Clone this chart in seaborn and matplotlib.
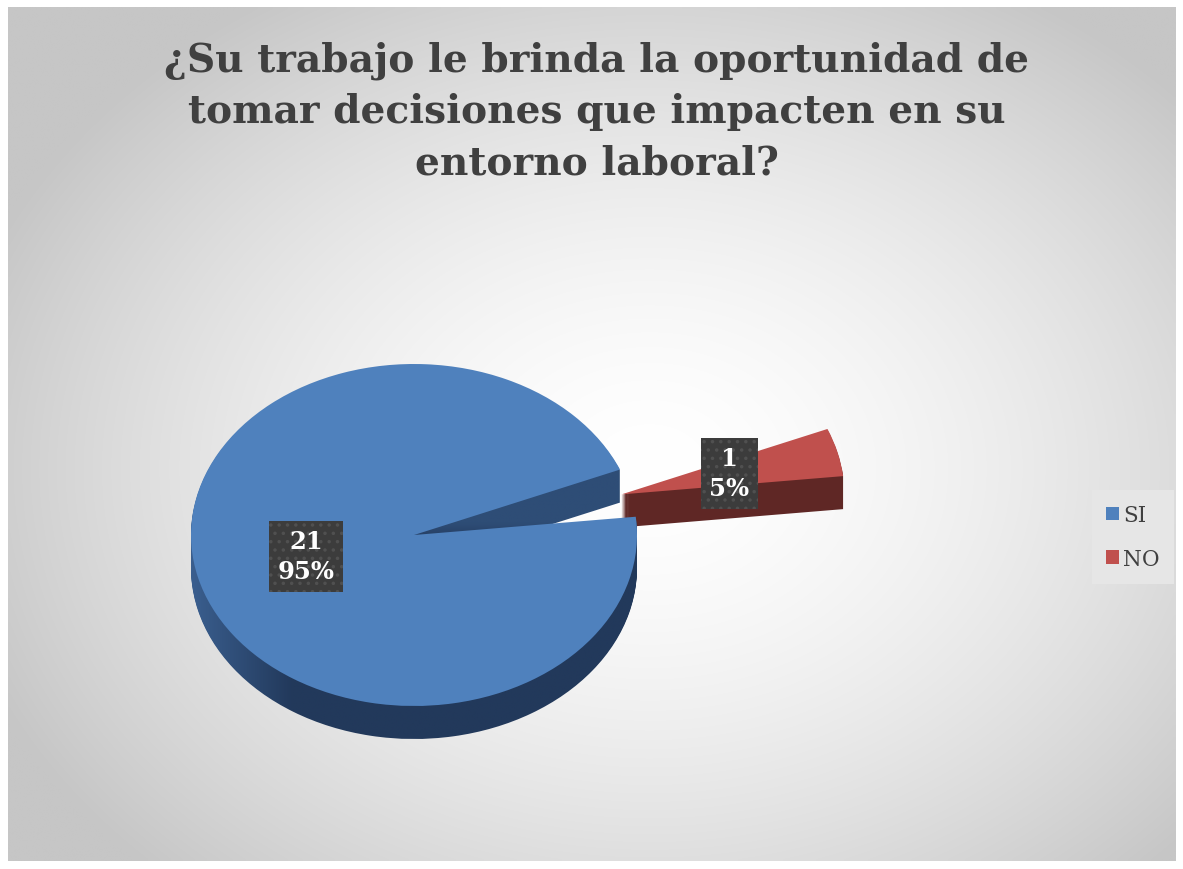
import numpy as np
import matplotlib
matplotlib.use("Agg")
import matplotlib.pyplot as plt
from matplotlib.colors import to_rgb
import seaborn as sns

# ---- data ----
categories = ["SI", "NO"]
counts = [21, 1]
title = "¿Su trabajo le brinda la oportunidad de\ntomar decisiones que impacten en su\nentorno laboral?"

top_colors = ["#4F81BD", "#C0504D"]
side_colors = ["#22395B", "#5F2725"]

sns.set_theme(style="white")
plt.rcParams["font.family"] = ["DejaVu Serif"]
plt.rcParams["hatch.linewidth"] = 1.3

W, H = 1183, 870
fig = plt.figure(figsize=(W / 100, H / 100), dpi=100)
fig.patch.set_facecolor("white")

# ---- background radial gradient (chart area) ----
bg = fig.add_axes([0, 0, 1, 1])
bg.set_xlim(0, W)
bg.set_ylim(H, 0)
bg.axis("off")
x0, x1, y0, y1 = 8, 1176, 8, 862
xx, yy = np.meshgrid(np.linspace(x0, x1, 300), np.linspace(y0, y1, 220))
d = np.sqrt(((xx - 650) / 720) ** 2 + ((yy - 470) / 560) ** 2)
val = 255 - 57 * np.clip(d, 0, 1) ** 1.6
img = np.dstack([val, val, val]) / 255.0
bg.imshow(img, extent=(x0, x1, y1, y0), aspect="auto", interpolation="bilinear", zorder=0)

# ---- pie axes in ellipse units ----
cx, cy, rx, ry = 414, 536, 223, 171
depth_px = 33
ax = fig.add_axes([0, 0, 1, 1])
ax.patch.set_alpha(0)

# side shading images (in ellipse units)
ux = np.linspace(-1.1, 1.1, 160)
uy = np.linspace(-1.4, 0.6, 120)
UX, UY = np.meshgrid(ux, uy)
dark_b = np.array(to_rgb(side_colors[0]))
light_b = np.array(to_rgb("#3A5E8E"))
face_b = np.array(to_rgb("#2E4D76"))
t_left = np.clip((-UX - 0.55) / 0.45, 0, 1)[..., None]
shade_b = dark_b * (1 - t_left) + light_b * t_left
t_up = np.clip((UY + 0.05) / 0.12, 0, 1)[..., None]
shade_b = shade_b * (1 - t_up) + face_b * t_up
shade_b = np.clip(shade_b, 0, 1)

startangle = 22.5
explode = [0, 0.96]
N = 33
for i in range(N):
    off = -(depth_px / ry) * (1 - i / N)
    ws, _ = ax.pie(counts, colors=side_colors, explode=explode, startangle=startangle,
                   counterclock=True, center=(0, off), radius=1,
                   wedgeprops=dict(linewidth=0, antialiased=True))
    ws[0].set_alpha(0)
    im = ax.imshow(shade_b, extent=(ux[0], ux[-1], uy[0], uy[-1]), origin="lower",
                   aspect="auto", interpolation="bilinear", zorder=ws[0].get_zorder())
    im.set_clip_path(ws[0])

total = sum(counts)

def fmt(p):
    return f"{round(p * total / 100)}\n{p:.0f}%"

wedges, _, autotexts = ax.pie(
    counts, colors=top_colors, explode=explode, startangle=startangle,
    counterclock=True, center=(0, 0), radius=1, autopct=fmt, pctdistance=0.5,
    wedgeprops=dict(linewidth=0, antialiased=True),
    textprops=dict(color="white", fontsize=17.5, fontweight="bold", linespacing=1.3),
)
for w in wedges:
    w.set_zorder(5)
for t in autotexts:
    t.set_ha("center")
    t.set_va("center")
    t.set_zorder(10)
    t.set_bbox(dict(boxstyle="square,pad=0.36", facecolor="#3c3c3c",
                    edgecolor="#505050", hatch="..", linewidth=0))

ax.set_aspect("auto")
ax.set_xlim((0 - cx) / rx, (W - cx) / rx)
ax.set_ylim((cy - H) / ry, cy / ry)
ax.axis("off")

# ---- legend ----
leg = ax.legend(wedges, categories, loc="center",
                bbox_to_anchor=(1133 / W, 1 - 538 / H), bbox_transform=fig.transFigure,
                frameon=True, fancybox=False, facecolor="#e6e6e6", edgecolor="none",
                framealpha=1, fontsize=15.5, handlelength=0.6, handleheight=0.6,
                handletextpad=0.2, labelspacing=1.0, borderpad=0.65)
leg.set_zorder(20)
for txt in leg.get_texts():
    txt.set_color("#404040")

# ---- title ----
fig.text(597 / W, 1 - 42 / H, title, ha="center", va="top", fontsize=28.2,
         fontweight="bold", color="#404040", linespacing=1.43)

fig.savefig("out.png", dpi=100)
